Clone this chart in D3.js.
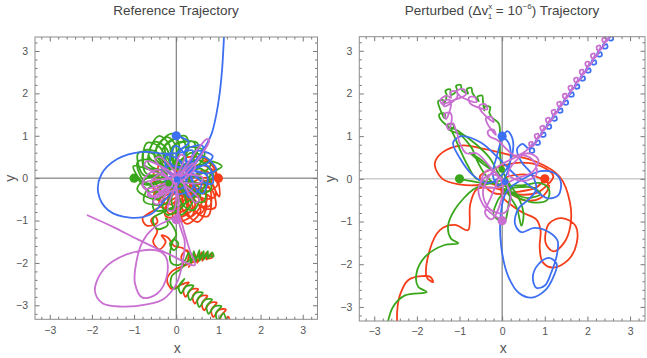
<!DOCTYPE html>
<html><head><meta charset="utf-8">
<script src="https://cdn.jsdelivr.net/npm/d3@7"></script>
<style>body{margin:0;background:#fff}svg{display:block}text{font-family:"Liberation Sans",Arial,sans-serif}</style>
</head><body>
<script>
// ---------- tick labels ----------
const majorTicks = [-3,-2,-1,0,1,2,3];
const minorTicks = [-3.2,-2.8,-2.6,-2.4,-2.2,-1.8,-1.6,-1.4,-1.2,-0.8,-0.6,-0.4,-0.2,0.2,0.4,0.6,0.8,1.2,1.4,1.6,1.8,2.2,2.4,2.6,2.8,3.2];
const titles = ["Reference Trajectory", "Perturbed"];
const bodyNames = ["red","green","blue","purple"];
const bodyColors = {blue:"#3d6ff2", red:"#f53d19", green:"#3aa61b", purple:"#c96fd1"};

// ---------- initial / final positions ----------
const startDots = [["blue",0,1],["red",1,0],["green",-1,0],["purple",0,-0.98]];
const refSmallDots = [["green",-0.18,-0.12],["blue",0.02,-0.03]];
const pertSmallDots = [["blue",0.07,-0.07],["green",-0.01,0.22]];

// ---------- reference trajectory ----------
const refGreen = [[-1,0],
[-0.98,0.05],[-0.60,-0.33],[-0.22,0.05],[-0.60,0.43],
[-0.924,0.368],[-0.697,-0.119],[-0.21,0.108],[-0.437,0.595],
[-0.762,0.648],[-0.715,0.113],[-0.18,0.159],[-0.227,0.695],
[-0.515,0.855],[-0.654,0.336],[-0.135,0.197],[0.004,0.716],
[-0.212,0.966],[-0.520,0.526],[-0.080,0.217],[0.228,0.658],
[0.112,0.966],[-0.328,0.658],[-0.020,0.217],[0.420,0.526],
[0.415,0.855],[-0.104,0.716],[0.035,0.197],[0.554,0.336],
[0.662,0.648],[0.127,0.695],[0.080,0.159],[0.615,0.113],
[0.824,0.368],[0.337,0.595],[0.110,0.108],[0.597,-0.119],
[0.88,0.05],[0.50,0.43],[0.12,0.05],[0.50,-0.33],
[0.824,-0.268],[0.597,0.219],[0.110,-0.008],[0.337,-0.495],
[0.662,-0.548],[0.615,-0.013],[0.080,-0.059],[0.127,-0.595],
[0.415,-0.755],[0.554,-0.236],[0.035,-0.097],[-0.104,-0.616],
[0.112,-0.866],[0.420,-0.426],[-0.020,-0.117],[-0.328,-0.558],
[-0.212,-0.866],[0.228,-0.558],[-0.080,-0.117],[-0.520,-0.426],
[-0.515,-0.755],[0.004,-0.616],[-0.135,-0.097],[-0.654,-0.236],
[-0.762,-0.548],[-0.227,-0.595],[-0.18,-0.059],[-0.715,-0.013],
[-0.924,-0.268],[-0.437,-0.495],[-0.21,-0.008],[-0.697,0.219],
[-1.016,0.282],[-0.708,-0.158],[-0.267,0.150],[-0.576,0.590],
[-0.905,0.585],[-0.766,0.066],[-0.247,0.205],[-0.386,0.724],
[-0.698,0.832],[-0.745,0.297],[-0.209,0.250],[-0.163,0.785],
[-0.418,0.994],[-0.645,0.507],[-0.158,0.280],[0.069,0.767],
[-0.1,1.05],[-0.48,0.67],[-0.1,0.29],[0.28,0.67],
[0.218,0.994],[-0.269,0.767],[-0.042,0.280],[0.445,0.507],
[0.498,0.832],[-0.037,0.785],[0.009,0.250],[0.545,0.297],
[0.8,0.4],[1.08,0.28],[0.85,0.12],[0.6,-0.3],[0.2,-0.6],[-0.3,-0.8],
[-0.55,-0.95],[-0.45,-1.2],[-0.2,-1.1],[-0.25,-0.95],[-0.1,-1.1],[0.0,-1.35],
[-0.15,-1.55],[-0.05,-1.7],[0.05,-1.55],[-0.05,-1.45],[-0.15,-1.8],[-0.12,-2.0],
[0.05,-2.05],[0.2,-1.95],[0.3,-1.75],[0.35,-2.0],[0.42,-1.72],[0.45,-1.98],
[0.55,-1.7],[0.55,-1.95],[0.65,-1.72],[0.65,-1.92],[0.75,-1.72],[0.75,-1.9],
[0.85,-1.75],[0.88,-1.85],[0.7,-1.82],[0.5,-1.85],[0.3,-1.95],[0.1,-2.15],
[-0.1,-2.3],[-0.12,-2.55],[0.0,-2.6],
[0.19,-2.38],[0.06,-2.55],[0.11,-2.72],[0.24,-2.55],
[0.41,-2.54],[0.28,-2.71],[0.33,-2.88],[0.46,-2.71],
[0.63,-2.70],[0.50,-2.87],[0.55,-3.04],[0.68,-2.87],
[0.85,-2.86],[0.72,-3.03],[0.77,-3.20],[0.90,-3.03],
[1.07,-3.02],[0.94,-3.19],[0.99,-3.36],[1.12,-3.19],
[1.2,-3.45]];

const refRed = [[1,0],
[0.797,0.352],[0.333,0.392],[0.292,-0.073],[0.757,-0.114],
[0.933,0.117],[0.510,0.314],[0.313,-0.109],[0.736,-0.306],
[0.98,-0.15],[0.65,0.18],[0.32,-0.15],[0.65,-0.48],
[0.933,-0.417],[0.736,0.006],[0.313,-0.191],[0.510,-0.614],
[0.797,-0.652],[0.757,-0.186],[0.292,-0.227],[0.333,-0.692],
[0.59,-0.825],[0.711,-0.375],[0.26,-0.254],[0.139,-0.705],
[0.336,-0.918],[0.603,-0.536],[0.221,-0.268],[-0.047,-0.650],
[0.064,-0.918],[0.447,-0.650],[0.179,-0.268],[-0.203,-0.536],
[-0.19,-0.825],[0.261,-0.705],[0.14,-0.254],[-0.311,-0.375],
[-0.397,-0.652],[0.067,-0.692],[0.108,-0.227],[-0.357,-0.186],
[-0.533,-0.417],[-0.110,-0.614],[0.087,-0.191],[-0.336,0.006],
[-0.58,-0.15],[-0.25,-0.48],[0.08,-0.15],[-0.25,0.18],
[-0.533,0.117],[-0.336,-0.306],[0.087,-0.109],[-0.110,0.314],
[-0.397,0.352],[-0.357,-0.114],[0.108,-0.073],[0.067,0.392],
[0.55,0.5],[0.9,0.25],
[1.018,-0.436],[0.750,-0.053],[0.368,-0.321],[0.636,-0.703],
[0.925,-0.69],[0.805,-0.239],[0.354,-0.36],[0.475,-0.811],
[0.752,-0.897],[0.792,-0.433],[0.327,-0.392],[0.286,-0.857],
[0.517,-1.033],[0.714,-0.610],[0.291,-0.413],[0.094,-0.836],
[0.25,-1.08],[0.58,-0.75],[0.25,-0.42],[-0.08,-0.75],
[-0.017,-1.033],[0.406,-0.836],[0.209,-0.413],[-0.214,-0.610],
[-0.252,-0.897],[0.214,-0.857],[0.173,-0.392],[-0.292,-0.433],
[-0.3,-0.6],[-0.6,-0.8],[-0.8,-0.95],[-0.7,-1.12],[-0.45,-1.05],[-0.5,-0.9],
[-0.6,-1.0],[-0.45,-1.25],[-0.55,-1.5],[-0.4,-1.68],[-0.25,-1.5],[-0.35,-1.35],
[-0.2,-1.4],[-0.05,-1.6],[0.15,-1.65],[0.3,-1.8],[0.2,-2.05],[0.12,-1.85],
[0.25,-1.7],[0.35,-1.95],[0.3,-2.1],[0.45,-1.8],[0.5,-2.0],[0.6,-1.75],
[0.62,-1.95],[0.72,-1.75],[0.72,-1.92],[0.82,-1.78],[0.85,-1.88],[0.6,-1.9],
[0.35,-2.0],[0.1,-2.1],[-0.1,-2.2],[-0.22,-2.4],[-0.1,-2.62],[0.1,-2.52],
[0.30,-2.46],[0.17,-2.63],[0.22,-2.80],[0.35,-2.63],
[0.52,-2.62],[0.39,-2.79],[0.44,-2.96],[0.57,-2.79],
[0.74,-2.78],[0.61,-2.95],[0.66,-3.12],[0.79,-2.95],
[0.96,-2.94],[0.83,-3.11],[0.88,-3.28],[1.01,-3.11],
[1.18,-3.10],[1.05,-3.27],[1.10,-3.44],[1.23,-3.27],
[1.3,-3.5]];

const refBlue = [[0,1],[0.15,0.95],
[0.3,0.85],[0.0,0.55],[0.3,0.25],[0.6,0.55],
[0.625,0.763],[0.215,0.653],[0.325,0.243],[0.735,0.353],
[0.863,0.525],[0.453,0.635],[0.343,0.225],[0.753,0.115],
[0.95,0.2],[0.65,0.5],[0.35,0.2],[0.65,-0.1],
[0.863,-0.125],[0.753,0.285],[0.343,0.175],[0.453,-0.235],
[0.625,-0.363],[0.735,0.047],[0.325,0.157],[0.215,-0.253],
[0.3,-0.45],[0.6,-0.15],[0.3,0.15],[0.0,-0.15],
[-0.025,-0.363],[0.385,-0.253],[0.275,0.157],[-0.135,0.047],
[-0.263,-0.125],[0.147,-0.235],[0.257,0.175],[-0.153,0.285],
[-0.35,0.2],[-0.05,-0.1],[0.25,0.2],[-0.05,0.5],
[-0.263,0.525],[-0.153,0.115],[0.257,0.225],[0.147,0.635],
[-0.025,0.763],[-0.135,0.353],[0.275,0.243],[0.385,0.653],
[0.1,0.6],[-0.3,0.58],[-0.8,0.62],[-1.4,0.45],[-1.78,0.08],[-1.85,-0.35],
[-1.62,-0.75],[-1.1,-0.93],[-0.6,-0.85],[-0.3,-0.55],[0.0,-0.2],[0.2,0.05],
[0.4,0.35],[0.56,0.55],[0.72,0.8],[0.84,1.05],[0.95,1.5],[1.03,2.0],
[1.09,2.6],[1.14,3.5]];

const refPurple = [[0,-0.98],[0.05,-0.6],[-0.05,-0.1],[-0.75,0.28],[-0.7,0.4],[-0.05,0.05],
[-0.8,-0.12],[-0.75,-0.25],[0.0,-0.05],[-0.55,-0.55],[-0.45,-0.62],[0.02,-0.02],
[-0.2,-0.75],[-0.05,-0.75],[0.05,0.02],[0.45,-0.58],[0.55,-0.5],[0.02,0.05],
[0.62,0.02],[0.6,-0.1],[0.0,-0.02],[0.1,0.55],[0.2,0.5],[0.0,0.0],
[0.72,0.92],[0.78,0.9],[0.05,0.02],[-0.5,0.45],[-0.4,0.5],[0.0,0.0],
[-0.68,-0.38],[-0.6,-0.45],[0.02,0.0],[0.4,0.35],[0.45,0.25],[0.0,-0.1],
[-0.45,0.2],[-0.8,-0.1],[-0.5,-0.45],[-0.15,-0.2],[-0.35,0.1],[-0.6,-0.1],
[-0.3,-0.35],[0.0,-0.3],[0.02,-0.85],[-0.2,-1.0],[-0.54,-1.18],[-0.8,-1.5],
[-0.95,-2.0],[-0.98,-2.48],[-0.8,-2.82],[-0.45,-2.72],[-0.22,-2.3],[-0.25,-1.85],
[-0.5,-1.7],[-1.18,-1.8],[-1.73,-2.16],[-1.93,-2.65],[-1.75,-2.95],[-1.3,-3.03],
[-0.7,-2.98],[-0.3,-2.85],[0.0,-2.5],[0.15,-2.0],[0.2,-1.5],[0.08,-1.1],
[0.05,-0.8],[0.2,-1.3],[0.32,-1.7],[0.44,-2.05],[-0.2,-1.78],[-0.9,-1.45],
[-1.5,-1.15],[-2.12,-0.87]];

// ---------- perturbed trajectory ----------
const pertGreen = [[-1,0],[-0.75,-0.05],[-0.3,-0.1],[0.0,0.0],[-0.45,0.35],[-0.76,0.61],
[-0.5,0.45],[-0.1,0.1],[0.3,-0.3],[0.5,-0.8],[0.45,-1.1],[0.35,-0.7],
[0.1,-0.2],[0.5,-0.15],[0.9,-0.1],[1.1,-0.25],[1.05,-0.5],[0.7,-0.55],
[0.3,-0.4],[-0.2,-0.1],[-0.6,0.0],[-0.8,0.3],[-0.95,0.6],[-1.1,0.95],
[-1.2,1.2],[-1.0,1.1],[-0.6,0.8],[-0.3,0.5],[-0.1,0.15],[0.1,-0.2],
[-0.1,-0.5],[-0.2,-0.85],[0.05,-1.0],[0.15,-0.6],[0.2,-0.2],[0.0,0.2],
[-0.05,0.6],[-0.05,1.0],[-0.08,1.3],[-0.25,1.45],
[-0.3,1.55],[-0.28,1.68],[-0.4,1.7],[-0.42,1.6],
[-0.45,1.82],[-0.47,1.95],[-0.58,1.92],[-0.55,1.82],
[-0.7,2.02],[-0.72,2.13],[-0.83,2.1],[-0.8,2.0],
[-0.95,2.08],[-0.97,2.2],[-1.08,2.18],[-1.06,2.07],
[-1.2,1.97],[-1.22,2.1],[-1.33,2.06],[-1.3,1.96],
[-1.38,1.72],[-1.38,1.84],[-1.5,1.82],[-1.48,1.7],
[-1.35,1.42],[-1.35,1.53],[-1.47,1.52],[-1.45,1.4],
[-1.15,1.17],[-1.15,1.28],[-1.27,1.27],[-1.25,1.15],
[-1.0,1.05],[-0.85,0.9],[-0.7,0.7],[-0.6,0.45],[-0.4,0.1],[-0.2,-0.1],
[0.2,-0.3],[0.6,-0.45],[0.9,-0.35],[0.7,-0.2],[0.2,-0.2],[-0.2,-0.1],
[-0.45,-0.15],[-0.68,-0.25],[-1.11,-0.72],[-1.27,-1.12],[-1.2,-1.4],[-1.03,-1.51],
[-1.35,-1.55],[-1.81,-1.83],[-2.01,-2.22],[-1.97,-2.53],[-1.77,-2.65],[-2.28,-2.73],
[-2.56,-3.0],[-2.7,-3.45]];

const pertRed = [[1,0],[0.8,-0.2],[0.4,-0.3],[-0.21,-0.33],[-0.52,0.06],[0.0,0.3],
[0.42,0.38],[0.9,0.3],[1.2,0.06],[1.0,-0.2],[0.81,-0.33],[0.3,-0.35],
[-0.3,-0.1],[-0.6,-0.15],[-1.0,-0.13],[-1.4,0.0],[-1.58,0.35],[-1.4,0.62],
[-0.95,0.78],[-0.37,0.69],[0.1,0.58],[0.8,0.4],[1.35,0.05],[1.59,-0.55],
[1.6,-1.1],[1.45,-1.5],[1.2,-1.7],[1.02,-1.5],[1.1,-1.05],[1.4,-0.92],
[1.72,-1.1],[1.75,-1.5],[1.55,-1.9],[1.2,-2.08],[0.95,-1.95],[0.88,-1.6],
[0.9,-1.2],[0.8,-0.95],[0.5,-0.8],[0.2,-0.6],[0.0,-0.4],[0.05,0.0],
[0.4,0.1],[0.8,0.05],[1.1,-0.15],[0.9,-0.45],[0.5,-0.5],[0.1,-0.3],
[-0.3,-0.2],[-0.6,-0.25],[-0.75,-0.6],[-0.8,-1.2],[-1.11,-1.08],[-1.46,-1.2],
[-1.70,-1.67],[-1.77,-2.30],[-1.62,-2.42],[-1.68,-2.3],[-1.89,-2.28],[-2.2,-2.37],
[-2.40,-2.73],[-2.46,-3.08],[-2.46,-3.5]];

const pertBlue = [[0,1],[0.15,0.85],[0.2,0.5],[0.1,0.1],[-0.1,-0.15],[-0.22,0.1],
[-0.12,0.55],[0.0,0.95],[0.12,1.12],[0.24,0.95],[0.22,0.5],[0.0,0.1],
[-0.35,-0.1],[-0.7,0.1],[-1.0,0.5],[-1.15,0.85],[-0.95,1.0],[-0.5,0.85],
[-0.1,0.5],[0.3,0.1],[0.7,-0.2],[1.05,-0.45],[1.32,-0.38],[1.37,-0.05],
[1.2,0.15],[0.9,0.18],[0.5,0.0],[0.1,-0.3],[-0.03,-0.8],[-0.02,-1.6],
[0.15,-2.3],[0.4,-2.68],[0.7,-2.78],[1.0,-2.62],[1.2,-2.3],[1.28,-2.0],
[1.1,-1.85],[0.85,-2.0],[0.72,-2.3],[0.8,-2.55],[1.0,-2.5],[1.15,-2.2],
[1.28,-1.8],[1.3,-1.45],[1.1,-1.25],[0.75,-1.15],[0.45,-1.25],[0.3,-1.05],
[0.38,-0.7],[0.6,-0.5],[0.8,-0.25],[0.7,0.1],[0.45,0.4],[0.35,0.7],
[0.48,0.82],[0.6,0.72],
[0.735,0.710],[0.750,0.627],[0.667,0.612],[0.652,0.695],
[0.867,0.898],[0.882,0.815],[0.799,0.800],[0.784,0.883],
[0.999,1.086],[1.014,1.003],[0.931,0.988],[0.916,1.071],
[1.131,1.274],[1.146,1.191],[1.063,1.176],[1.048,1.259],
[1.263,1.462],[1.278,1.379],[1.195,1.364],[1.180,1.447],
[1.395,1.650],[1.410,1.567],[1.327,1.552],[1.312,1.635],
[1.527,1.838],[1.542,1.755],[1.459,1.740],[1.444,1.823],
[1.659,2.026],[1.674,1.943],[1.591,1.928],[1.576,2.011],
[1.791,2.214],[1.806,2.131],[1.723,2.116],[1.708,2.199],
[1.923,2.402],[1.938,2.319],[1.855,2.304],[1.840,2.387],
[2.055,2.590],[2.070,2.507],[1.987,2.492],[1.972,2.575],
[2.187,2.778],[2.202,2.695],[2.119,2.680],[2.104,2.763],
[2.319,2.966],[2.334,2.883],[2.251,2.868],[2.236,2.951],
[2.451,3.154],[2.466,3.071],[2.383,3.056],[2.368,3.139],
[2.583,3.342],[2.598,3.259],[2.515,3.244],[2.500,3.327],
[2.7,3.55]];

const pertPurple = [[0,-0.96],[-0.2,-0.85],[-0.45,-0.6],[-0.55,-0.2],[-0.3,0.1],[0.0,0.0],
[0.2,-0.4],[0.05,-0.8],[-0.3,-0.7],[-0.45,-0.3],[-0.2,0.2],[0.2,0.45],
[0.5,0.55],[0.75,0.4],[0.8,0.1],[0.5,-0.05],[0.15,0.1],[0.3,0.4],
[0.6,0.6],[0.85,0.45],[0.7,0.15],[0.3,0.0],[-0.1,-0.2],[-0.5,-0.15],
[-0.35,0.2],[-0.1,0.1],[-0.25,-0.4],[-0.4,-0.8],[-0.25,-0.95],[-0.05,-0.6],
[0.0,-0.1],[-0.3,0.3],[-0.6,0.6],[-0.84,0.6],[-1.0,0.85],[-1.05,1.05],
[-1.1,1.18],[-1.15,1.3],[-1.3,1.27],[-1.25,1.15],
[-1.18,1.43],[-1.22,1.55],[-1.36,1.52],[-1.32,1.4],
[-1.2,1.72],[-1.23,1.85],[-1.38,1.82],[-1.35,1.7],
[-1.05,1.93],[-1.08,2.05],[-1.22,2.03],[-1.2,1.9],
[-1.3,1.95],[-1.45,1.85],[-1.4,1.75],[-1.2,1.82],
[-0.85,1.98],[-0.9,2.1],[-1.05,2.07],[-1.0,1.95],
[-0.6,1.8],[-0.65,1.92],[-0.78,1.9],[-0.75,1.77],
[-0.35,1.63],[-0.4,1.75],[-0.53,1.72],[-0.5,1.6],
[-0.2,1.33],[-0.25,1.45],[-0.38,1.42],[-0.35,1.3],
[-0.15,1.03],[-0.2,1.15],[-0.33,1.12],[-0.3,1.0],
[-0.1,0.9],[0.1,0.7],[0.3,0.55],[0.55,0.65],
[0.719,0.862],[0.636,0.847],[0.651,0.764],[0.734,0.779],
[0.851,1.050],[0.768,1.035],[0.783,0.952],[0.866,0.967],
[0.983,1.238],[0.900,1.223],[0.915,1.140],[0.998,1.155],
[1.115,1.426],[1.032,1.411],[1.047,1.328],[1.130,1.343],
[1.247,1.614],[1.164,1.599],[1.179,1.516],[1.262,1.531],
[1.379,1.802],[1.296,1.787],[1.311,1.704],[1.394,1.719],
[1.511,1.990],[1.428,1.975],[1.443,1.892],[1.526,1.907],
[1.643,2.178],[1.560,2.163],[1.575,2.080],[1.658,2.095],
[1.775,2.366],[1.692,2.351],[1.707,2.268],[1.790,2.283],
[1.907,2.554],[1.824,2.539],[1.839,2.456],[1.922,2.471],
[2.039,2.742],[1.956,2.727],[1.971,2.644],[2.054,2.659],
[2.171,2.930],[2.088,2.915],[2.103,2.832],[2.186,2.847],
[2.303,3.118],[2.220,3.103],[2.235,3.020],[2.318,3.035],
[2.435,3.306],[2.352,3.291],[2.367,3.208],[2.450,3.223],
[2.6,3.55]];

// ---------- drawing ----------
const W = 647, H = 358;
const svg = d3.select("body").append("svg").attr("width", W).attr("height", H);

const panels = [
  {id:"ref", x0:35, x1:317.5, y0:37, y1:319.3, hColor:"#666", yLab:20,
   paths:{red:refRed, green:refGreen, blue:refBlue, purple:refPurple}, small:refSmallDots},
  {id:"pert", x0:359.3, x1:645, y0:36.7, y1:321, hColor:"#b5b5b5", yLab:24,
   paths:{red:pertRed, green:pertGreen, blue:pertBlue, purple:pertPurple}, small:pertSmallDots}
];

const fmt = d => d < 0 ? "\u2212" + Math.abs(d) : String(d);

panels.forEach((p, i) => {
  const xs = d3.scaleLinear().domain([-3.35, 3.35]).range([p.x0, p.x1]);
  const ys = d3.scaleLinear().domain([-3.33, 3.33]).range([p.y1, p.y0]);
  const g = svg.append("g");

  g.append("clipPath").attr("id", "clip" + p.id).append("rect")
    .attr("x", p.x0).attr("y", p.y0).attr("width", p.x1 - p.x0).attr("height", p.y1 - p.y0);

  // origin axes
  g.append("line").attr("x1", xs(-3.35)).attr("x2", xs(3.35)).attr("y1", ys(0)).attr("y2", ys(0))
    .attr("stroke", p.hColor).attr("stroke-width", 1);
  g.append("line").attr("x1", xs(0)).attr("x2", xs(0)).attr("y1", ys(-3.33)).attr("y2", ys(3.33))
    .attr("stroke", "#666").attr("stroke-width", 1);

  // trajectories
  const line = d3.line().x(d => xs(d[0])).y(d => ys(d[1])).curve(d3.curveCatmullRom.alpha(0.5));
  const plot = g.append("g").attr("clip-path", "url(#clip" + p.id + ")");
  bodyNames.forEach(b => {
    plot.append("path").attr("d", line(p.paths[b])).attr("fill", "none")
      .attr("stroke", bodyColors[b]).attr("stroke-width", 1.8).attr("stroke-linejoin", "round");
  });
  plot.selectAll("circle.start").data(startDots).join("circle").attr("class","start")
    .attr("cx", d => xs(d[1])).attr("cy", d => ys(d[2])).attr("r", 4.6).attr("fill", d => bodyColors[d[0]]);
  plot.selectAll("circle.small").data(p.small).join("circle").attr("class","small")
    .attr("cx", d => xs(d[1])).attr("cy", d => ys(d[2])).attr("r", 3.2).attr("fill", d => bodyColors[d[0]]);

  // frame ticks
  const styleAxis = sel => {
    sel.select(".domain").remove();
    sel.selectAll(".tick line").attr("stroke", "#777");
    sel.selectAll(".tick text").attr("fill", "#555").style("font-size", "10.5px")
      .style("font-family", "'Liberation Sans', Arial, sans-serif");
  };
  const ax = [
    [d3.axisBottom(xs), `translate(0,${p.y1})`, true],
    [d3.axisTop(xs), `translate(0,${p.y0})`, false],
    [d3.axisLeft(ys), `translate(${p.x0},0)`, true],
    [d3.axisRight(ys), `translate(${p.x1},0)`, false]
  ];
  ax.forEach(([a, tr, lab]) => {
    g.append("g").attr("transform", tr)
      .call(a.tickValues(majorTicks).tickSize(-4.5).tickPadding(lab ? 7 : 0).tickFormat(lab ? fmt : ""))
      .call(styleAxis);
  });
  const axm = [
    [d3.axisBottom(xs), `translate(0,${p.y1})`],
    [d3.axisTop(xs), `translate(0,${p.y0})`],
    [d3.axisLeft(ys), `translate(${p.x0},0)`],
    [d3.axisRight(ys), `translate(${p.x1},0)`]
  ];
  axm.forEach(([a, tr]) => {
    g.append("g").attr("transform", tr)
      .call(a.tickValues(minorTicks).tickSize(-2.5).tickFormat(""))
      .call(styleAxis);
  });

  // frame
  g.append("rect").attr("x", p.x0).attr("y", p.y0).attr("width", p.x1 - p.x0).attr("height", p.y1 - p.y0)
    .attr("fill", "none").attr("stroke", "#8c8c8c").attr("stroke-width", 1);

  // axis labels
  g.append("text").attr("x", (p.x0 + p.x1) / 2 + 1).attr("y", 353).attr("text-anchor", "middle")
    .attr("fill", "#555").style("font-size", "14px").text("x");
  g.append("text").attr("transform", `translate(${p.x0 - p.yLab},${ys(0)}) rotate(-90)`)
    .attr("text-anchor", "middle").attr("fill", "#555").style("font-size", "14px").text("y");
});

// titles
svg.append("text").attr("x", 176).attr("y", 15).attr("text-anchor", "middle")
  .attr("fill", "#444").style("font-size", "13.5px").text(titles[0]);
const t2 = svg.append("text").attr("x", 502).attr("y", 15).attr("text-anchor", "middle")
  .attr("fill", "#444").style("font-size", "13.5px");
t2.append("tspan").text(titles[1] + " (\u0394v");
t2.append("tspan").attr("dy", -6).style("font-size", "8px").text("x");
t2.append("tspan").attr("dx", -4.5).attr("dy", 10).style("font-size", "8px").text("1");
t2.append("tspan").attr("dy", -4).text(" = 10");
t2.append("tspan").attr("dy", -6).style("font-size", "8px").text("\u22126");
t2.append("tspan").attr("dy", 6).text(") Trajectory");
</script>
</body></html>
